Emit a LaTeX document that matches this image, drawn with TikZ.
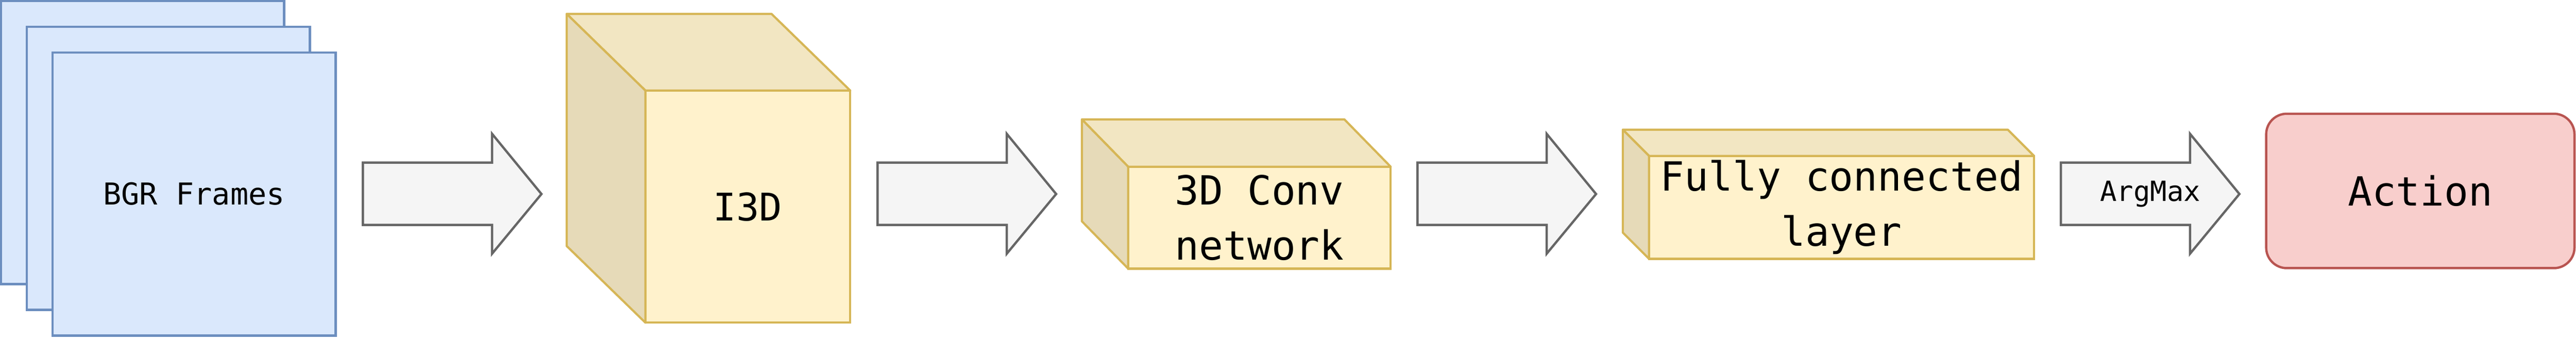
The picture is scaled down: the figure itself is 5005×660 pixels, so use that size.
\documentclass[tikz,border=0pt]{standalone}
\usepackage{fontspec}
\newfontfamily\dmono{DejaVu Sans Mono}
\usetikzlibrary{calc}
\definecolor{bfill}{HTML}{DAE8FC}
\definecolor{bline}{HTML}{6C8EBF}
\definecolor{yfill}{HTML}{FFF2CC}
\definecolor{yline}{HTML}{D6B656}
\definecolor{ytop}{HTML}{F2E6C2}
\definecolor{yside}{HTML}{E6DAB8}
\definecolor{rfill}{HTML}{F8CECC}
\definecolor{rline}{HTML}{B85450}
\definecolor{gfill}{HTML}{F5F5F5}
\definecolor{gline}{HTML}{666666}
\newcommand\blockarrow[2]{%
  \draw[barrow] (#1,316) -- ++(251,0) -- ++(0,-56) -- ++(96,117) -- ++(-96,116)
    -- ++(0,-56) -- ++(-251,0) -- cycle;
  \coordinate (#2) at (#1+174,377);}
\begin{document}
\begin{tikzpicture}[x=1pt,y=-1pt,
  frame/.style={draw=bline,fill=bfill,line width=4.7pt,minimum width=550pt,minimum height=550pt,
    inner sep=0pt,outer sep=0pt},
  cubefront/.style={draw=yline,fill=yfill,line width=4.2pt,inner sep=0pt,outer sep=0pt,align=center},
  cubetop/.style={draw=yline,fill=ytop,line width=4.2pt,line join=round},
  cubeside/.style={draw=yline,fill=yside,line width=4.2pt,line join=round},
  barrow/.style={draw=gline,fill=gfill,line width=4.5pt,line join=miter},
  actionbox/.style={draw=rline,fill=rfill,line width=4.5pt,rounded corners=40pt,inner sep=0pt,outer sep=0pt},
  lbl/.style={inner sep=0pt,text=black}]
\useasboundingbox (0,0) rectangle (5005,660);

% BGR frames
\node[frame] (f1) at (277,277) {};
\node[frame] (f2) at (327,327) {};
\node[frame,font=\dmono\fontsize{58.6}{70}\selectfont] (f3) at (377,377) {BGR Frames};

% arrow 1
\blockarrow{705}{a1}

% I3D cube
\node[cubefront,minimum width=398pt,minimum height=451pt,font=\dmono\fontsize{74}{89}\selectfont]
  (i3d) at (1453,401.5) {I3D};
\draw[cubetop] (i3d.north west) -- ++(-153,-149) -- ($(i3d.north east)+(-153,-149)$) -- (i3d.north east) -- cycle;
\draw[cubeside] (i3d.north west) -- ++(-153,-149) -- ($(i3d.south west)+(-153,-149)$) -- (i3d.south west) -- cycle;

% arrow 2
\blockarrow{1705}{a2}

% 3D Conv cube
\node[cubefront,minimum width=510pt,minimum height=198pt,font=\dmono\fontsize{78}{107}\selectfont]
  (conv) at (2447,423) {3D Conv\\network};
\draw[cubetop] (conv.north west) -- ++(-90,-92) -- ($(conv.north east)+(-90,-92)$) -- (conv.north east) -- cycle;
\draw[cubeside] (conv.north west) -- ++(-90,-92) -- ($(conv.south west)+(-90,-92)$) -- (conv.south west) -- cycle;

% arrow 3
\blockarrow{2754}{a3}

% Fully connected cube
\node[cubefront,minimum width=748pt,minimum height=200pt,font=\dmono\fontsize{78}{107}\selectfont]
  (fc) at (3578,403) {Fully connected\\layer};
\draw[cubetop] (fc.north west) -- ++(-51,-51) -- ($(fc.north east)+(-51,-51)$) -- (fc.north east) -- cycle;
\draw[cubeside] (fc.north west) -- ++(-51,-51) -- ($(fc.south west)+(-51,-51)$) -- (fc.south west) -- cycle;

% arrow 4 with ArgMax
\blockarrow{4004}{a4}
\node[lbl,font=\dmono\fontsize{54}{65}\selectfont] (argmax) at (4178,377) {ArgMax};

% Action
\node[actionbox,minimum width=599pt,minimum height=300pt,font=\dmono\fontsize{78}{94}\selectfont]
  (action) at (4702.5,371) {Action};
\end{tikzpicture}
\end{document}
